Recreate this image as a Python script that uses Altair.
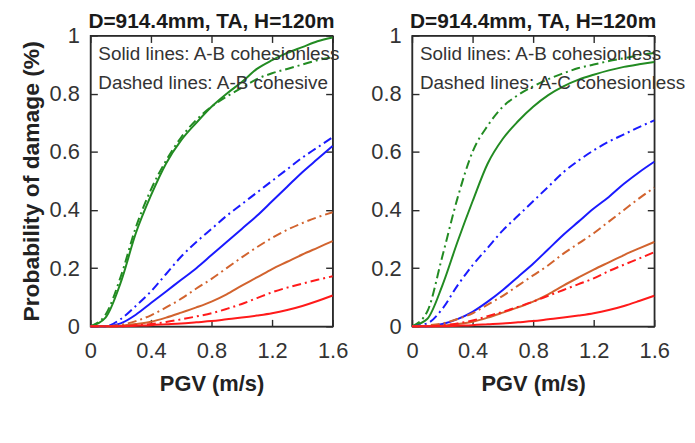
import altair as alt
import pandas as pd

FONT = "Liberation Sans"

pgv = [0.0, 0.1, 0.2, 0.3, 0.4, 0.5, 0.6, 0.7, 0.8, 0.9, 1.0, 1.1, 1.2, 1.3, 1.4, 1.5, 1.6]
levels = ["OLS", "PILS", "ULS", "GCLS"]
colors = ["#228b22", "#1a1aff", "#d2632e", "#ff1a1a"]

x_ticks = [0, 0.4, 0.8, 1.2, 1.6]
y_ticks = [0, 0.2, 0.4, 0.6, 0.8, 1.0]

panel_title = "D=914.4mm, TA, H=120m"
x_title = "PGV (m/s)"
y_title = "Probability of damage (%)"
left_notes = ["Solid lines: A-B cohesionless", "Dashed lines: A-B cohesive"]
right_notes = ["Solid lines: A-B cohesionless", "Dashed lines: A-C cohesionless"]

# Left panel: solid (A-B cohesionless)
l_ols_s = [0, 0.03, 0.15, 0.32, 0.45, 0.56, 0.64, 0.70, 0.755, 0.80, 0.84, 0.885, 0.915, 0.94, 0.96, 0.98, 0.993]
l_pils_s = [0, 0, 0.01, 0.04, 0.08, 0.12, 0.16, 0.20, 0.245, 0.29, 0.335, 0.38, 0.43, 0.48, 0.53, 0.575, 0.62]
l_uls_s = [0, 0, 0.002, 0.008, 0.016, 0.03, 0.047, 0.065, 0.085, 0.11, 0.14, 0.168, 0.197, 0.222, 0.247, 0.27, 0.293]
l_gcls_s = [0, 0, 0, 0.002, 0.004, 0.007, 0.01, 0.014, 0.018, 0.024, 0.03, 0.037, 0.045, 0.056, 0.07, 0.087, 0.106]
# Left panel: dashed (A-B cohesive)
l_ols_d = [0, 0.04, 0.17, 0.34, 0.47, 0.57, 0.65, 0.71, 0.755, 0.79, 0.82, 0.85, 0.87, 0.885, 0.90, 0.915, 0.925]
l_pils_d = [0, 0, 0.025, 0.07, 0.12, 0.18, 0.24, 0.29, 0.335, 0.38, 0.42, 0.46, 0.50, 0.54, 0.58, 0.615, 0.65]
l_uls_d = [0, 0, 0.005, 0.018, 0.038, 0.065, 0.095, 0.13, 0.163, 0.20, 0.237, 0.272, 0.304, 0.332, 0.355, 0.375, 0.392]
l_gcls_d = [0, 0, 0, 0.004, 0.008, 0.015, 0.024, 0.034, 0.045, 0.06, 0.077, 0.097, 0.117, 0.133, 0.147, 0.16, 0.172]

# Right panel: solid (A-B cohesionless)
r_ols_s = [0, 0.025, 0.14, 0.29, 0.43, 0.56, 0.645, 0.705, 0.755, 0.795, 0.825, 0.848, 0.865, 0.88, 0.892, 0.901, 0.909]
r_pils_s = [0, 0, 0.008, 0.025, 0.05, 0.085, 0.125, 0.17, 0.215, 0.265, 0.315, 0.36, 0.405, 0.445, 0.49, 0.53, 0.566]
r_uls_s = [0, 0, 0.002, 0.008, 0.016, 0.03, 0.047, 0.065, 0.085, 0.11, 0.14, 0.168, 0.195, 0.22, 0.245, 0.268, 0.29]
r_gcls_s = [0, 0, 0, 0.002, 0.004, 0.007, 0.01, 0.014, 0.018, 0.024, 0.03, 0.037, 0.045, 0.056, 0.07, 0.087, 0.105]
# Right panel: dashed (A-C cohesionless)
r_ols_d = [0, 0.05, 0.24, 0.44, 0.60, 0.69, 0.755, 0.795, 0.825, 0.85, 0.87, 0.888, 0.90, 0.912, 0.922, 0.932, 0.94]
r_pils_d = [0, 0.01, 0.06, 0.14, 0.21, 0.27, 0.33, 0.38, 0.43, 0.48, 0.53, 0.57, 0.605, 0.635, 0.66, 0.685, 0.708]
r_uls_d = [0, 0.003, 0.01, 0.025, 0.045, 0.075, 0.105, 0.14, 0.175, 0.21, 0.25, 0.285, 0.32, 0.36, 0.40, 0.44, 0.477]
r_gcls_d = [0, 0, 0.003, 0.01, 0.02, 0.035, 0.05, 0.067, 0.085, 0.105, 0.125, 0.145, 0.165, 0.19, 0.212, 0.233, 0.255]

W, H = 244, 293
TICK = 7
INK = "#2b2b2b"


def frame(series):
    rows = []
    for lvl, vals in zip(levels, series):
        for x, y in zip(pgv, vals):
            rows.append({"pgv": x, "p": y, "level": lvl})
    return pd.DataFrame(rows)


legend = alt.Legend(
    title=None, orient="none", legendX=16, legendY=388, direction="horizontal",
    symbolType="stroke", symbolSize=3600, symbolStrokeWidth=3.5,
    labelFont=FONT, labelFontSize=20, labelColor="#333", labelOffset=8,
    columnPadding=6, padding=0,
)
color = alt.Color("level:N", scale=alt.Scale(domain=levels, range=colors), legend=legend)
xscale = alt.Scale(domain=[0, 1.6], nice=False)
yscale = alt.Scale(domain=[0, 1], nice=False)

edge = dict(domain=True, domainColor=INK, domainWidth=1.4, ticks=False, labels=False,
            title=None, grid=False)
inner = dict(domain=False, ticks=True, tickSize=TICK, tickColor=INK, tickWidth=1.4,
             labels=False, title=None, grid=False, offset=-TICK)


def panel(solid, dashed, notes, ytitle):
    x_main = alt.Axis(orient="bottom", values=x_ticks, format="~g", labelPadding=14,
                      titlePadding=13, labelFlush=False, titleFontSize=22, title=x_title,
                      domain=True, domainColor=INK, domainWidth=1.4, ticks=False)
    y_kw = dict(orient="left", values=y_ticks, format="~g", labelPadding=11, labelFlush=False,
                titlePadding=6, titleFontSize=23, domain=True, domainColor=INK,
                domainWidth=1.4, ticks=False)
    y_main = alt.Axis(title=ytitle, **y_kw) if ytitle else alt.Axis(title=None, **y_kw)

    s = alt.Chart(frame(solid)).mark_line(strokeWidth=2, interpolate="monotone").encode(
        x=alt.X("pgv", type="quantitative", scale=xscale, axis=x_main),
        y=alt.Y("p", type="quantitative", scale=yscale, axis=y_main),
        color=color)
    d = alt.Chart(frame(dashed)).mark_line(strokeWidth=2, interpolate="monotone",
                                           strokeDash=[9, 4, 2, 4]).encode(
        x=alt.X("pgv", type="quantitative", scale=xscale,
                axis=alt.Axis(orient="top", **edge)),
        y=alt.Y("p", type="quantitative", scale=yscale,
                axis=alt.Axis(orient="right", **edge)),
        color=color)
    tk1 = alt.Chart(frame(solid)).mark_line(opacity=0).encode(
        x=alt.X("pgv", type="quantitative", scale=xscale,
                axis=alt.Axis(orient="bottom", values=x_ticks, **inner)),
        y=alt.Y("p", type="quantitative", scale=yscale,
                axis=alt.Axis(orient="left", values=y_ticks, **inner)),
        detail="level:N")
    tk2 = alt.Chart(frame(solid)).mark_line(opacity=0).encode(
        x=alt.X("pgv", type="quantitative", scale=xscale,
                axis=alt.Axis(orient="top", values=x_ticks, **inner)),
        y=alt.Y("p", type="quantitative", scale=yscale,
                axis=alt.Axis(orient="right", values=y_ticks, **inner)),
        detail="level:N")
    t1 = alt.Chart(pd.DataFrame({"t": [notes[0]]})).mark_text(
        font=FONT, fontSize=19, color="#333", align="left", baseline="alphabetic").encode(
        x=alt.value(8), y=alt.value(25), text="t:N")
    t2 = alt.Chart(pd.DataFrame({"t": [notes[1]]})).mark_text(
        font=FONT, fontSize=19, color="#333", align="left", baseline="alphabetic").encode(
        x=alt.value(8), y=alt.value(54), text="t:N")
    return alt.layer(s, d, tk1, tk2, t1, t2).resolve_axis(
        x="independent", y="independent").properties(
        width=W, height=H,
        title=alt.TitleParams(panel_title, font=FONT, fontSize=21, fontWeight="bold",
                              color="#1a1a1a", anchor="middle", offset=-7),
    )


left = panel([l_ols_s, l_pils_s, l_uls_s, l_gcls_s], [l_ols_d, l_pils_d, l_uls_d, l_gcls_d],
             left_notes, y_title)
right = panel([r_ols_s, r_pils_s, r_uls_s, r_gcls_s], [r_ols_d, r_pils_d, r_uls_d, r_gcls_d],
              right_notes, None)

chart = alt.hconcat(left, right, spacing=80, bounds="flush").properties(
    autosize=alt.AutoSizeParams(type="pad"),
    padding={"left": 11, "top": 0, "right": 0, "bottom": 0},
    background="white",
).configure_view(stroke=INK, strokeWidth=1.4).configure_axis(
    grid=False, labelFont=FONT, titleFont=FONT, labelFontSize=22, labelColor="#333",
    titleColor="#222", titleFontWeight="bold",
)

chart.save("out.html", embed_options={"renderer": "svg", "actions": False})
